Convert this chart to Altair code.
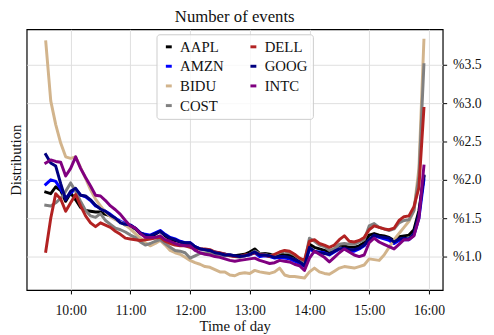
import altair as alt
import pandas as pd

FONT = "Liberation Serif"

symbols = ["AAPL", "AMZN", "BIDU", "COST", "DELL", "GOOG", "INTC"]
colors = ["#000000", "#0000ff", "#d2b48c", "#808080", "#b22222", "#000080", "#800080"]

# time of day (hours), 5-minute bins from 9:35 to 15:55
times = [9 + (35 + 5 * i) / 60 for i in range(77)]

AAPL = [1.84,1.82,1.91,1.86,1.72,1.83,1.74,1.64,1.60,1.59, 1.58,1.58,1.55,1.53,1.49,1.45,1.41,1.39,1.36,1.30,
        1.28,1.27,1.29,1.33,1.27,1.22,1.21,1.19,1.17,1.16, 1.12,1.10,1.09,1.07,1.05,1.04,1.03,1.02,1.01,1.02,
        1.03,1.06,1.10,1.04,1.04,1.03,1.01,1.03,1.02,1.02, 1.00,0.96,0.92,1.16,1.12,1.10,1.08,1.06,1.10,1.15,
        1.14,1.12,1.12,1.14,1.18,1.28,1.30,1.28,1.27,1.25, 1.21,1.26,1.27,1.28,1.35,1.60,2.04]
AMZN = [1.94,2.00,1.98,1.88,1.76,1.83,1.88,1.80,1.78,1.73, 1.66,1.63,1.59,1.55,1.50,1.46,1.43,1.41,1.37,1.31,
        1.29,1.28,1.31,1.34,1.29,1.25,1.23,1.20,1.18,1.18, 1.13,1.10,1.09,1.08,1.06,1.04,1.03,1.02,1.00,1.00,
        1.01,1.02,1.05,1.00,1.01,1.00,0.98,0.99,0.98,0.97, 0.94,0.91,0.87,1.10,1.06,1.06,1.05,1.02,1.06,1.10,
        1.10,1.07,1.07,1.10,1.14,1.22,1.27,1.25,1.23,1.21, 1.17,1.21,1.22,1.22,1.28,1.50,2.00]
BIDU = [3.80,3.03,2.72,2.48,2.30,2.28,2.30,2.16,2.02,1.87, 1.75,1.66,1.58,1.52,1.48,1.45,1.41,1.36,1.30,1.24,
        1.18,1.14,1.17,1.21,1.15,1.08,1.05,1.03,0.99,0.95, 0.92,0.90,0.87,0.86,0.83,0.80,0.80,0.76,0.75,0.78,
        0.79,0.78,0.82,0.80,0.79,0.78,0.80,0.85,0.76,0.74, 0.74,0.73,0.72,0.80,0.85,0.80,0.78,0.77,0.81,0.85,
        0.87,0.86,0.85,0.87,0.89,0.97,0.96,0.95,1.02,1.12, 1.22,1.30,1.38,1.46,1.60,2.15,3.82]
COST = [1.67,1.66,1.70,1.76,1.85,1.96,1.85,1.72,1.60,1.53, 1.51,1.56,1.47,1.42,1.37,1.35,1.32,1.28,1.25,1.19,
        1.15,1.17,1.20,1.22,1.17,1.12,1.08,1.07,1.05,0.98, 1.01,1.04,1.05,1.04,1.03,1.02,1.01,1.02,1.00,0.99,
        1.01,1.03,1.07,1.04,1.03,1.01,1.02,1.05,1.07,1.05, 1.02,0.97,0.93,1.24,1.20,1.15,1.13,1.08,1.10,1.16,
        1.17,1.16,1.16,1.19,1.22,1.40,1.43,1.38,1.36,1.34, 1.36,1.44,1.47,1.48,1.60,2.05,3.50]
DELL = [1.07,1.50,1.82,1.75,1.59,1.70,1.81,1.66,1.53,1.44, 1.39,1.44,1.41,1.38,1.33,1.29,1.24,1.23,1.22,1.21,
        1.22,1.23,1.24,1.25,1.20,1.17,1.15,1.14,1.14,1.12, 1.10,1.10,1.10,1.09,1.06,1.05,1.03,1.01,1.00,1.00,
        1.02,1.03,1.05,1.03,1.02,1.00,1.03,1.06,1.08,1.07, 1.03,0.98,0.95,1.20,1.22,1.17,1.15,1.12,1.15,1.22,
        1.27,1.20,1.19,1.21,1.25,1.35,1.40,1.38,1.36,1.35, 1.37,1.47,1.52,1.53,1.65,1.90,2.93]
GOOG = [2.33,2.22,2.18,1.95,1.74,1.85,1.89,1.80,1.79,1.74, 1.67,1.62,1.59,1.54,1.50,1.44,1.42,1.41,1.37,1.31,
        1.28,1.27,1.30,1.33,1.28,1.24,1.22,1.19,1.18,1.18, 1.13,1.10,1.09,1.08,1.05,1.04,1.02,1.02,1.01,1.00,
        1.01,1.03,1.06,1.02,1.02,1.01,0.99,1.00,1.00,0.99, 0.96,0.93,0.88,1.12,1.07,1.05,1.04,1.03,1.07,1.10,
        1.11,1.09,1.09,1.11,1.15,1.22,1.28,1.26,1.25,1.24, 1.19,1.23,1.24,1.23,1.30,1.55,2.05]
INTC = [2.22,2.26,2.24,2.23,2.05,2.15,2.30,2.15,2.03,1.92, 1.80,1.79,1.73,1.66,1.61,1.55,1.47,1.40,1.37,1.30,
        1.25,1.25,1.25,1.27,1.22,1.20,1.17,1.15,1.14,1.14, 1.08,1.05,1.03,1.02,1.00,0.99,0.97,0.95,0.94,0.95,
        0.96,0.97,0.98,0.95,0.93,0.91,0.92,0.95,0.94,0.93, 0.90,0.88,0.82,0.98,1.07,1.03,0.99,0.93,0.99,1.05,
        1.10,1.06,1.02,1.00,1.02,1.18,1.24,1.19,1.16,1.13, 1.10,1.16,1.22,1.22,1.27,1.50,2.18]

series = [AAPL, AMZN, BIDU, COST, DELL, GOOG, INTC]
hour_ticks = [10, 11, 12, 13, 14, 15, 16]
pct_ticks = [1.0, 1.5, 2.0, 2.5, 3.0, 3.5]

rows = []
for s, vals in zip(symbols, series):
    for t, v in zip(times, vals):
        rows.append({"symbol": s, "t": t, "v": v})
df = pd.DataFrame(rows)

W, H = 423, 265

chart = alt.Chart(df).mark_line(strokeWidth=3, strokeJoin="round", strokeCap="square").encode(
    x=alt.X("t:Q",
            scale=alt.Scale(domain=[9.2636, 16.232], nice=False, zero=False),
            axis=alt.Axis(values=hour_ticks, labelExpr="datum.value + ':00'",
                          title="Time of day", labelPadding=10, titlePadding=1)),
    y=alt.Y("v:Q",
            scale=alt.Scale(domain=[0.5641, 3.9615], nice=False, zero=False),
            axis=alt.Axis(orient="right", values=pct_ticks,
                          labelExpr="'%' + format(datum.value, '.1f')",
                          title="Distribution", titleAngle=270, titleX=-429, titleY=H / 2,
                          titleAlign="center", titleBaseline="alphabetic", labelPadding=6)),
    color=alt.Color("symbol:N",
                    scale=alt.Scale(domain=symbols, range=colors),
                    legend=alt.Legend(title=None, orient="none", legendX=132, legendY=5, columns=2,
                                      symbolType="stroke", symbolSize=36, symbolStrokeWidth=3,
                                      labelFont=FONT, labelFontSize=15, labelColor="#111",
                                      labelOffset=4, rowPadding=4, columnPadding=20,
                                      fillColor="rgba(255,255,255,0.8)", strokeColor="#cccccc",
                                      cornerRadius=3, padding=5)),
).properties(
    width=W, height=H,
    title=alt.TitleParams("Number of events", font=FONT, fontSize=17, fontWeight="normal",
                          color="#111", anchor="middle", offset=4),
    autosize=alt.AutoSizeParams(type="none"),
    padding={"left": 19, "top": 19, "right": 44, "bottom": 42},
).configure_view(
    stroke="#000", strokeWidth=1.2
).configure_axis(
    domain=False, grid=True, gridColor="#dedede", gridWidth=1,
    ticks=True, tickColor="#000", tickSize=4, tickWidth=1,
    labelFont=FONT, labelFontSize=14, labelColor="#111",
    titleFont=FONT, titleFontSize=15, titleFontWeight="normal", titleColor="#111",
)

chart.save("out.html", embed_options={"renderer": "svg", "actions": False})
